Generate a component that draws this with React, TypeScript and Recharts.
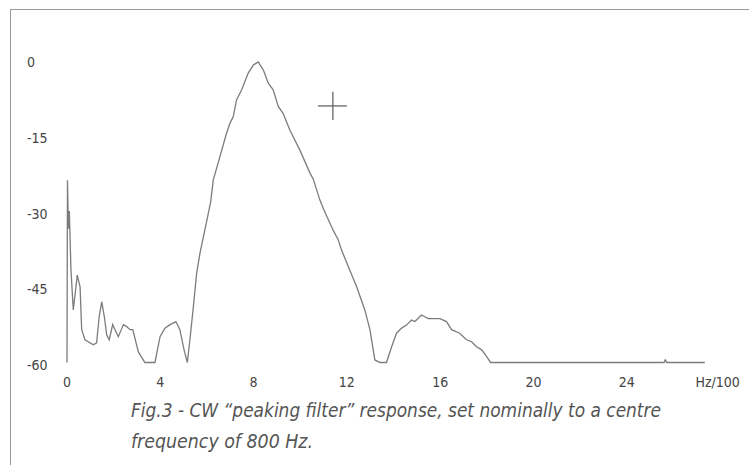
import React from "react";
import { Line, LineChart, ReferenceLine, XAxis, YAxis } from "recharts";

// frequency in Hz/100, level in dB
const freq = [
  0, 0.02, 0.06, 0.1, 0.17, 0.27, 0.44, 0.56, 0.63, 0.77,
  1.13, 1.27, 1.38, 1.49, 1.6, 1.7, 1.81, 1.96, 2.06, 2.2,
  2.42, 2.56, 2.7, 2.82, 3.06, 3.34, 3.77, 3.99, 4.2, 4.42,
  4.67, 4.84, 5.02, 5.16, 5.27, 5.42, 5.56, 5.7, 5.85, 6.0,
  6.16, 6.27, 6.56, 6.84, 6.99, 7.13, 7.27, 7.49, 7.77, 7.99,
  8.2, 8.42, 8.63, 8.84, 9.06, 9.27, 9.56, 9.99, 10.42, 10.56,
  10.84, 10.99, 11.27, 11.41, 11.63, 11.77, 12.06, 12.42, 12.77, 12.99,
  13.2, 13.42, 13.7, 13.92, 14.13, 14.35, 14.56, 14.77, 14.92, 15.2,
  15.49, 15.77, 15.99, 16.27, 16.49, 16.84, 17.13, 17.35, 17.56, 17.78,
  17.99, 18.16, 22.0, 25.6, 25.65, 25.72, 27.35,
];
const level = [
  -59.5, -23.4, -33, -29.5, -41.2, -49.1, -42.2, -44.5, -53, -55,
  -56, -55.6, -50.4, -47.5, -50.4, -54, -55, -52, -53, -54.4,
  -52, -52.4, -53, -53, -57.4, -59.5, -59.5, -54.4, -52.7, -52,
  -51.4, -53, -57, -59.5, -55, -48.4, -41.8, -37.9, -34.6, -31.3,
  -27.7, -23.4, -18.7, -14.1, -12.1, -10.8, -7.5, -5.5, -2.2, -0.6,
  0, -1.6, -4.2, -5.5, -8.8, -10.2, -13.5, -17.5, -22, -23.2,
  -27.3, -29, -31.9, -33.3, -35.2, -37.2, -40.5, -44.5, -49.1, -53,
  -59, -59.5, -59.5, -56.4, -53.7, -52.7, -52.1, -51.1, -51.4, -50.1,
  -50.8, -50.8, -50.8, -51.4, -53, -53.7, -55, -55.4, -56.4, -57,
  -58.3, -59.5, -59.5, -59.5, -59, -59.5, -59.5,
];

const xTicks = [0, 4, 8, 12, 16, 20, 24, 27.9];
const xTickLabels = ["0", "4", "8", "12", "16", "20", "24", "Hz/100"];
const yTicks = [0, -15, -30, -45, -60];

// cursor cross marker
const crossX = [10.76, 11.4, 12.0];
const crossY = [-5.9, -8.7, -11.5];

const captionLines = [
  "Fig.3 - CW \u201cpeaking filter\u201d response, set nominally to a centre",
  "frequency of 800 Hz.",
];

const data = freq.map((f, i) => ({ f, db: level[i] }));

const tickFont = "'Liberation Sans Narrow', 'DejaVu Sans Condensed', Arial, sans-serif";

const XTick = (props: any) => {
  const idx = xTicks.indexOf(props.payload.value);
  return (
    <text x={props.x} y={387} textAnchor="middle" fontFamily={tickFont} fontSize={14} fill="#444">
      {xTickLabels[idx] ?? props.payload.value}
    </text>
  );
};

const YTick = (props: any) => (
  <text x={27} y={props.y + 5} textAnchor="start" fontFamily={tickFont} fontSize={14} fill="#444">
    {props.payload.value}
  </text>
);

export default function App() {
  return (
    <div style={{ position: "absolute", left: 0, top: 0, width: 749, height: 465, background: "#fff", overflow: "hidden" }}>
      <div
        style={{
          position: "absolute",
          left: 10,
          top: 9,
          width: 760,
          height: 480,
          borderTop: "1.5px solid #9a9a9a",
          borderLeft: "1.5px solid #9a9a9a",
        }}
      />
      <div style={{ position: "absolute", left: 0, top: 0 }}>
        <LineChart width={749} height={465} data={data} margin={{ top: 62, right: 29, left: 27, bottom: 70 }}>
          <XAxis
            type="number"
            dataKey="f"
            domain={[0, 28]}
            ticks={xTicks}
            axisLine={false}
            tickLine={false}
            height={30}
            tick={XTick}
            interval={0}
          />
          <YAxis
            type="number"
            domain={[-60, 0]}
            ticks={yTicks}
            axisLine={false}
            tickLine={false}
            width={40}
            tick={YTick}
            interval={0}
          />
          <ReferenceLine
            segment={[{ x: crossX[0], y: crossY[1] }, { x: crossX[2], y: crossY[1] }]}
            stroke="#666"
            strokeWidth={1.3}
          />
          <ReferenceLine
            segment={[{ x: crossX[1], y: crossY[0] }, { x: crossX[1], y: crossY[2] }]}
            stroke="#666"
            strokeWidth={1.3}
          />
          <Line
            type="linear"
            dataKey="db"
            stroke="#7c7c7c"
            strokeWidth={1.3}
            dot={false}
            isAnimationActive={false}
          />
        </LineChart>
      </div>
      <svg width={749} height={465} style={{ position: "absolute", left: 0, top: 0, pointerEvents: "none" }}>
        <text
          x={131}
          y={417}
          textLength={530}
          lengthAdjust="spacingAndGlyphs"
          fontFamily={tickFont}
          fontStyle="italic"
          fontSize={20}
          fill="#555"
        >
          {captionLines[0]}
        </text>
        <text
          x={131}
          y={448}
          textLength={182}
          lengthAdjust="spacingAndGlyphs"
          fontFamily={tickFont}
          fontStyle="italic"
          fontSize={20}
          fill="#555"
        >
          {captionLines[1]}
        </text>
      </svg>
    </div>
  );
}
